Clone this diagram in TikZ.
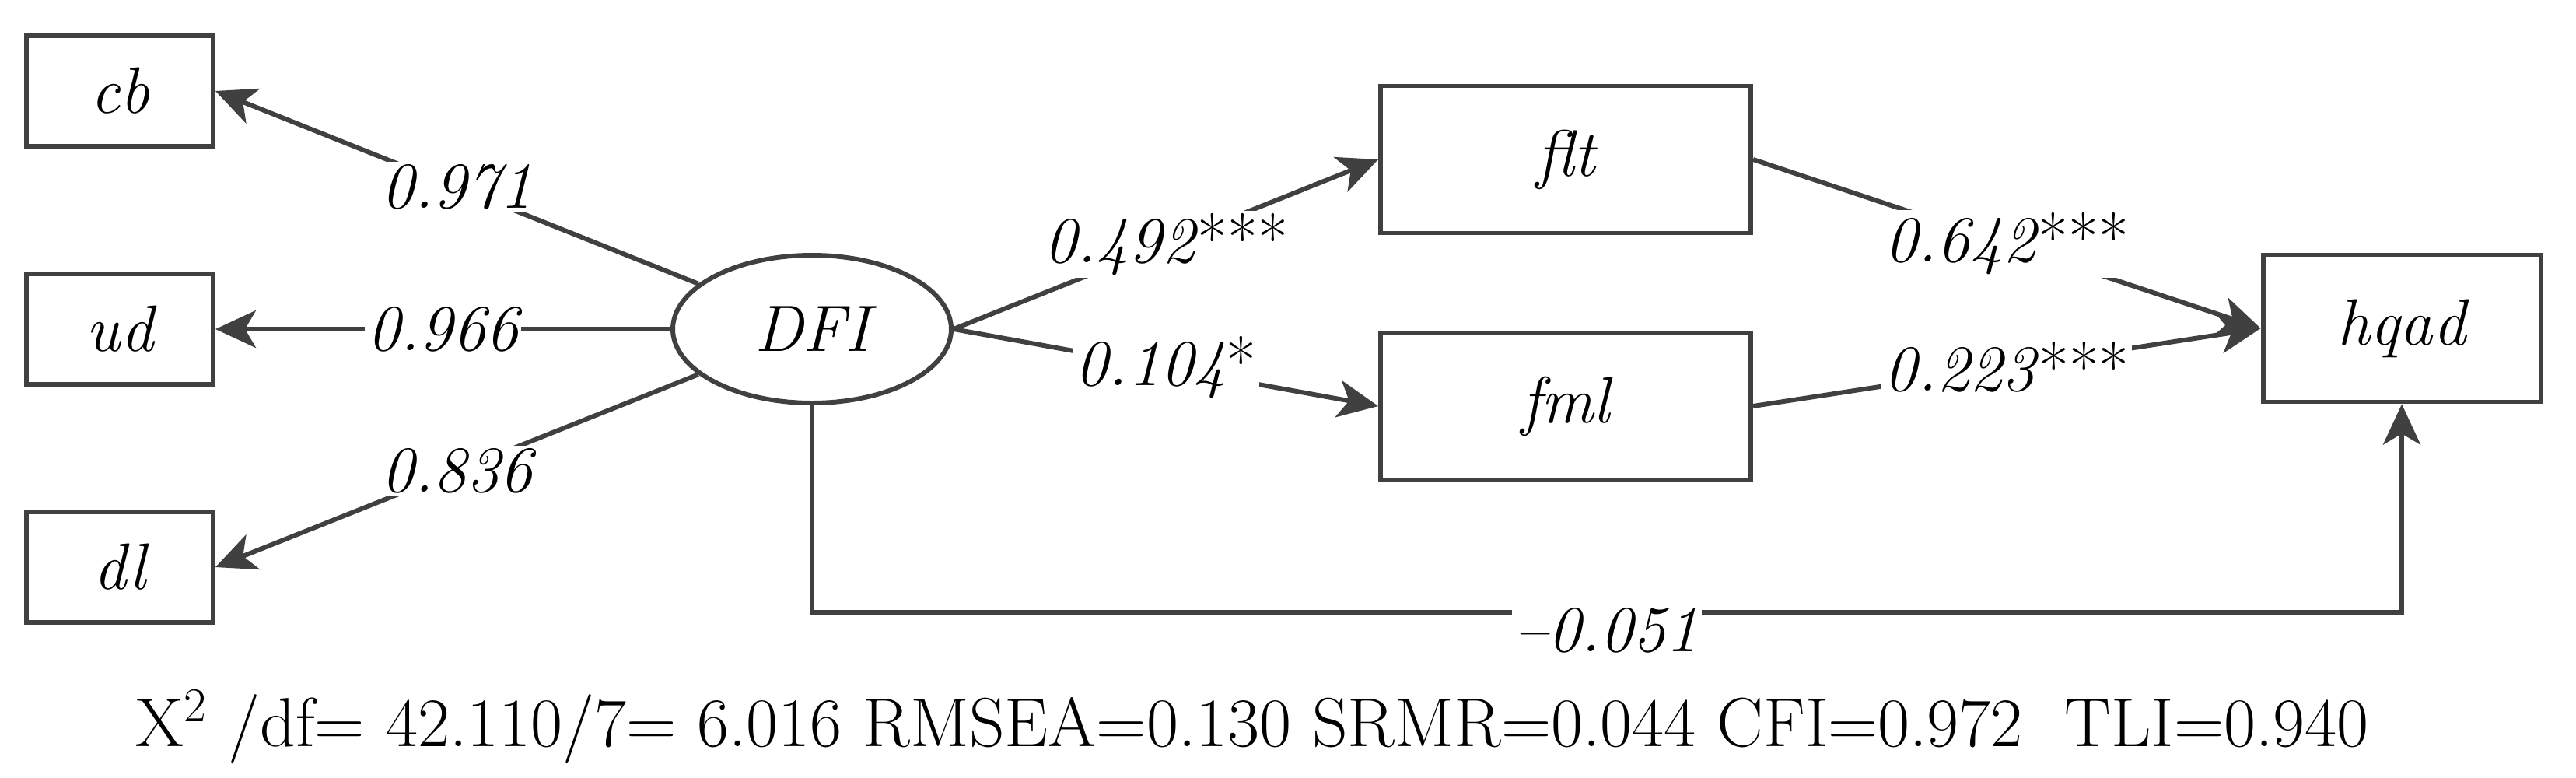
\documentclass[tikz,border=0pt]{standalone}
\usepackage{xcolor}
\usepackage{tikz}
\usetikzlibrary{shapes.geometric, arrows.meta, positioning, calc}

\definecolor{linegray}{HTML}{404040}

\begin{document}
\begin{tikzpicture}[
  font=\fontsize{24}{28}\selectfont,
  obsvar/.style={draw=linegray, line width=1.7pt, rectangle, minimum width=2.4cm, minimum height=1.42cm, inner sep=0pt, font=\fontsize{24}{28}\selectfont\itshape},
  medvar/.style={obsvar, minimum width=4.76cm, minimum height=1.89cm},
  latent/.style={draw=linegray, line width=1.7pt, ellipse, minimum width=3.58cm, minimum height=1.9cm, inner sep=0pt, font=\fontsize{24}{28}\selectfont\itshape},
  link/.style={draw=linegray, line width=1.7pt, -{Stealth[length=5.2mm, width=4.8mm, inset=1.4mm]}},
  coef/.style={fill=white, inner sep=1pt, font=\fontsize{24}{28}\selectfont\itshape}
]
\useasboundingbox (0,0) rectangle (33.12,-9.99);

% indicators of DFI
\node[obsvar] (cb) at (1.54,-1.17) {cb};
\node[obsvar] (ud) at (1.54,-4.23) {ud};
\node[obsvar] (dl) at (1.54,-7.29) {dl};
\node[latent] (DFI) at (10.44,-4.23) {DFI};

% mediators and outcome
\node[medvar] (flt) at (20.13,-2.05) {flt};
\node[medvar] (fml) at (20.13,-5.22) {fml};
\node[medvar, minimum width=3.57cm] (hqad) at (30.88,-4.22) {hqad};
\coordinate (low) at (0,-7.87);

\draw[link] (DFI) -- node[coef] {0.971} (cb.east);
\draw[link] (DFI.west) -- node[coef] {0.966} (ud.east);
\draw[link] (DFI) -- node[coef] {0.836} (dl.east);

\draw[link] (DFI.east) -- node[coef] {0.492\textup{***}} (flt.west);
\draw[link] (DFI.east) -- node[coef] {0.104\textup{*}} (fml.west);
\draw[link] (flt.east) -- node[coef] {0.642\textup{***}} (hqad.west);
\draw[link] (fml.east) -- node[coef] {0.223\textup{***}} (hqad.west);

\draw[link] (DFI.south) -- (DFI.south |- low) -| node[coef, pos=0.25, yshift=-0.23cm] {--0.051} (hqad.south);

% fit indices
\node[font=\fontsize{25.4}{30}\selectfont] (fit) at (16.1,-9.34) {X\textsuperscript{2} /df= 42.110/7= 6.016 RMSEA=0.130 SRMR=0.044 CFI=0.972\ \ TLI=0.940};
\end{tikzpicture}
\end{document}
